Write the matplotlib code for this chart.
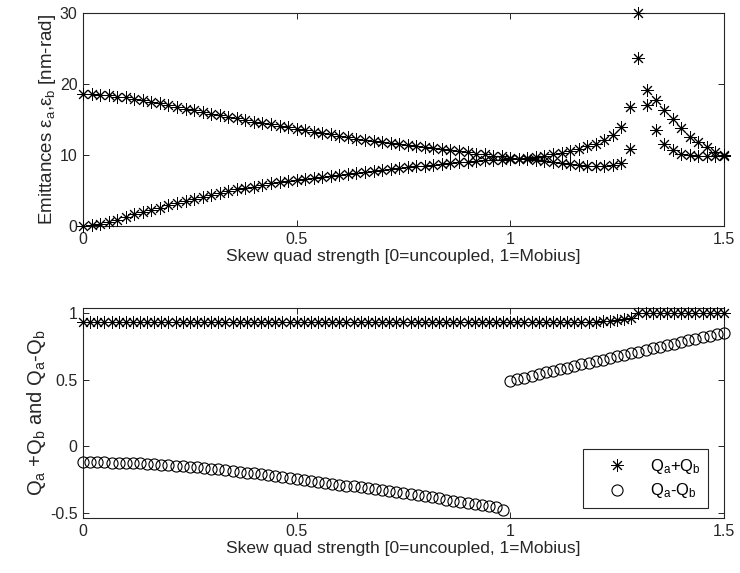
import numpy as np
import matplotlib
matplotlib.use('Agg')
import matplotlib.pyplot as plt
from matplotlib.ticker import FormatStrFormatter

plt.rcParams['font.family'] = ['Liberation Sans', 'DejaVu Sans']
plt.rcParams['mathtext.fontset'] = 'custom'
plt.rcParams['mathtext.rm'] = 'Liberation Sans'
plt.rcParams['mathtext.it'] = 'Liberation Sans'
plt.rcParams['mathtext.fallback'] = 'stix'
plt.rcParams['axes.unicode_minus'] = False

# emittance scan, sampled every 0.02 in skew quad strength
k_emit = np.arange(76) * 0.02
emit_1 = [18.6, 18.6, 18.5, 18.4, 18.2, 18.1, 17.9, 17.7, 17.5, 17.3,
          17.0, 16.8, 16.5, 16.3, 16.0, 15.8, 15.6, 15.4, 15.2, 14.9,
          14.7, 14.5, 14.3, 14.1, 13.9, 13.7, 13.5, 13.3, 13.1, 12.9,
          12.7, 12.5, 12.3, 12.1, 12.0, 11.8, 11.7, 11.5, 11.4, 11.3,
          11.1, 11.0, 10.9, 10.7, 10.5, 10.4, 10.2, 10.1, 9.9, 9.8,
          9.6, 9.5, 9.4, 9.3, 9.2, 9.0, 8.9, 8.7, 8.6, 8.5,
          8.5, 8.5, 8.6, 8.9, 10.9, 23.7, 17.1, 13.5, 11.6, 10.7,
          10.1, 10.0, 9.9, 9.9, 9.9, 9.9]
emit_2 = [0.0, 0.1, 0.25, 0.55, 0.9, 1.3, 1.7, 2.0, 2.3, 2.6,
          2.9, 3.2, 3.5, 3.8, 4.1, 4.4, 4.65, 4.9, 5.15, 5.35,
          5.55, 5.8, 6.0, 6.15, 6.3, 6.45, 6.6, 6.75, 6.9, 7.05,
          7.2, 7.35, 7.45, 7.6, 7.75, 7.85, 8.0, 8.15, 8.3, 8.4,
          8.5, 8.6, 8.75, 8.85, 8.95, 9.05, 9.15, 9.25, 9.3, 9.35,
          9.4, 9.5, 9.6, 9.75, 9.9, 10.1, 10.3, 10.6, 10.9, 11.2,
          11.6, 12.1, 12.8, 14.0, 16.7, 30.0, 19.2, 17.7, 16.3, 15.1,
          13.8, 12.5, 11.8, 11.1, 10.4, 10.0]

# tune sums / differences, sampled every 1/60
k_tune = np.arange(91) / 60.0
q_sum = [0.937, 0.937, 0.937, 0.937, 0.937, 0.937, 0.937, 0.937, 0.937, 0.937,
         0.937, 0.937, 0.937, 0.937, 0.937, 0.937, 0.937, 0.937, 0.937, 0.937,
         0.937, 0.937, 0.937, 0.937, 0.937, 0.937, 0.937, 0.937, 0.937, 0.937,
         0.937, 0.937, 0.937, 0.937, 0.937, 0.937, 0.937, 0.937, 0.937, 0.937,
         0.937, 0.937, 0.937, 0.937, 0.937, 0.937, 0.937, 0.937, 0.937, 0.937,
         0.937, 0.937, 0.937, 0.937, 0.937, 0.937, 0.937, 0.937, 0.937, 0.937,
         0.937, 0.937, 0.937, 0.937, 0.937, 0.937, 0.937, 0.937, 0.937, 0.937,
         0.937, 0.937, 0.938, 0.940, 0.945, 0.950, 0.955, 0.965, 1.0, 1.0,
         1.0, 1.0, 1.0, 1.0, 1.0, 1.0, 1.0, 1.0, 1.0, 1.0, 1.0]
q_diff = [-0.120, -0.120, -0.121, -0.122, -0.123, -0.124, -0.126, -0.128, -0.130, -0.133,
          -0.136, -0.139, -0.143, -0.147, -0.151, -0.155, -0.160, -0.165, -0.170, -0.175,
          -0.181, -0.187, -0.193, -0.199, -0.205, -0.212, -0.219, -0.226, -0.233, -0.240,
          -0.247, -0.254, -0.261, -0.268, -0.275, -0.282, -0.289, -0.296, -0.303, -0.310,
          -0.317, -0.324, -0.331, -0.338, -0.345, -0.353, -0.361, -0.369, -0.377, -0.385,
          -0.393, -0.401, -0.409, -0.417, -0.425, -0.434, -0.443, -0.452, -0.461, -0.478,
          0.490, 0.503, 0.516, 0.529, 0.542, 0.555, 0.568, 0.580, 0.592, 0.604,
          0.616, 0.628, 0.640, 0.652, 0.664, 0.676, 0.688, 0.700, 0.712, 0.724,
          0.736, 0.748, 0.760, 0.772, 0.784, 0.796, 0.808, 0.820, 0.832, 0.842, 0.850]

x_ticks = [0, 0.5, 1, 1.5]
emit_ticks = [0, 10, 20, 30]
tune_ticks = [-0.5, 0, 0.5, 1]

fg = '#262626'
asterisk = (8, 2, 0)

fig = plt.figure(figsize=(7.4, 5.73), dpi=100)
ax1 = fig.add_axes([0.1122, 0.6056, 0.866, 0.3717])
ax2 = fig.add_axes([0.1122, 0.096, 0.866, 0.3665])

ax1.plot(k_emit, emit_1, linestyle='none', marker=asterisk, ms=9, mew=0.7, color='k',
         clip_on=False, zorder=3)
ax1.plot(k_emit, emit_2, linestyle='none', marker=asterisk, ms=9, mew=0.7, color='k',
         clip_on=False, zorder=3)
ax1.set_ylim(0, 30)
ax1.set_yticks(emit_ticks)
ax1.set_ylabel(r'Emittances $\epsilon_\mathrm{a}$,$\epsilon_\mathrm{b}$ [nm-rad]',
               fontsize=13.5, color=fg, labelpad=1)

ax2.plot(k_tune, q_sum, linestyle='none', marker=asterisk, ms=9, mew=0.7, color='k',
         clip_on=False, zorder=3, label=r'Q$_\mathrm{a}$+Q$_\mathrm{b}$')
ax2.plot(k_tune, q_diff, linestyle='none', marker='o', ms=8, mew=0.8, color='k',
         mfc='none', clip_on=False, zorder=3, label=r'Q$_\mathrm{a}$-Q$_\mathrm{b}$')
ax2.set_ylim(-0.54, 1.04)
ax2.set_yticks(tune_ticks)
ax2.set_ylabel(r'Q$_\mathrm{a}$ +Q$_\mathrm{b}$ and Q$_\mathrm{a}$-Q$_\mathrm{b}$',
               fontsize=14.5, color=fg, labelpad=1)
leg = ax2.legend(loc='lower right', bbox_to_anchor=(0.975, 0.048), borderaxespad=0,
                 fancybox=False, framealpha=1, edgecolor=fg, fontsize=12,
                 handlelength=3.2, handletextpad=0.35, borderpad=0.45, labelspacing=0.35)
leg.get_frame().set_linewidth(0.8)
leg.set_zorder(5)

for ax in (ax1, ax2):
    ax.set_xlim(0, 1.5)
    ax.set_xticks(x_ticks)
    ax.xaxis.set_major_formatter(FormatStrFormatter('%g'))
    ax.yaxis.set_major_formatter(FormatStrFormatter('%g'))
    ax.set_xlabel('Skew quad strength [0=uncoupled, 1=Mobius]', fontsize=12.5,
                  color=fg, labelpad=2)
    ax.tick_params(direction='in', top=True, right=True, length=4.5, width=0.7,
                   labelsize=11.5, colors=fg, pad=4)
    for s in ax.spines.values():
        s.set_color(fg)
        s.set_linewidth(0.8)

fig.savefig('out.png', dpi=100)
